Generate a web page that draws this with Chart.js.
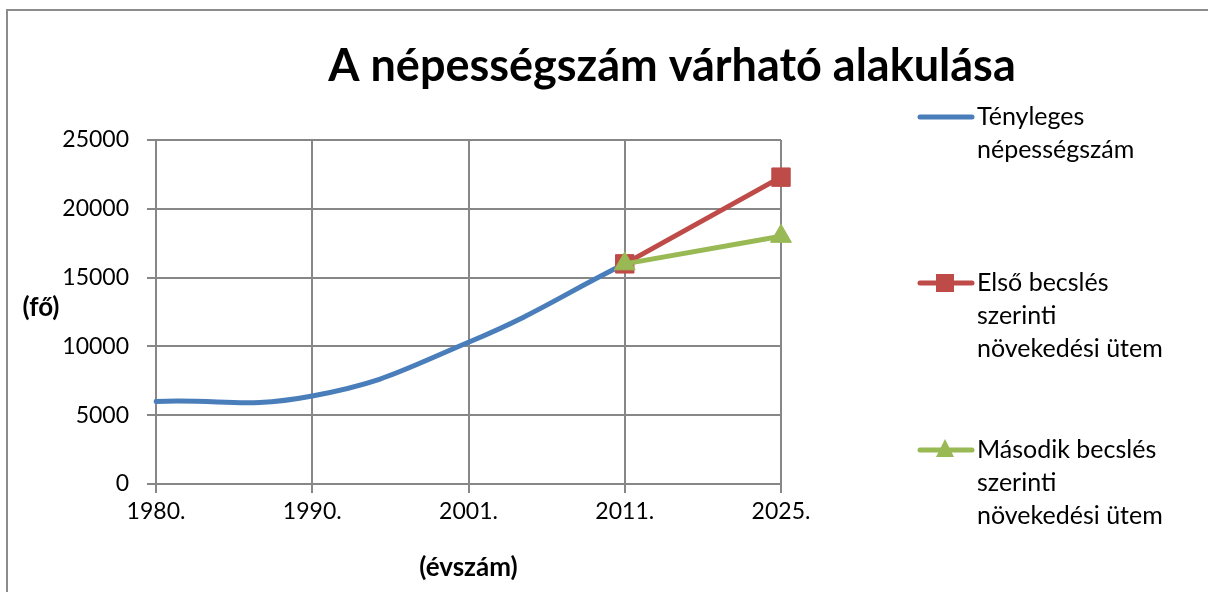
<!DOCTYPE html>
<html lang="hu">
<head>
<meta charset="UTF-8">
<title>A népességszám várható alakulása</title>
<script src="https://cdn.jsdelivr.net/npm/chart.js"></script>
<style>
    html, body { margin: 0; padding: 0; background: #fff; overflow: hidden; }
    #wrap { position: relative; width: 1208px; height: 592px; }
    #frame {
        position: absolute; left: 6px; top: 9px; right: -10px; bottom: -10px;
        border-top: 2px solid #8c8c8c; border-left: 2px solid #8c8c8c;
        pointer-events: none;
    }
    canvas { position: absolute; left: 0; top: 0; }
</style>
</head>
<body>
<div id="wrap">
    <canvas id="nepChart" width="1208" height="592"></canvas>
    <div id="frame"></div>
</div>
<script>
    // évek (kategóriák)
    const evek = ['1980.', '1990.', '2001.', '2011.', '2025.'];

    // tényleges népességszám (fő)
    const tenyleges = [6000, 6400, 10300, 16000, null];
    // becslések 2011-től
    const elsoBecsles = [null, null, null, 16000, 22300];
    const masodikBecsles = [null, null, null, 16000, 18000];

    const sorozatNevek = [
        ['Tényleges', 'népességszám'],
        ['Első becslés', 'szerinti', 'növekedési ütem'],
        ['Második becslés', 'szerinti', 'növekedési ütem']
    ];

    const yTicks = [0, 5000, 10000, 15000, 20000, 25000];

    const FONT = 'Lato, "Open Sans", sans-serif';
    const racsSzin = '#878787';

    // cím, függőleges tengelyfelirat és jelmagyarázat
    const rajzoloPlugin = {
        id: 'rajzolo',
        afterDraw(chart) {
            const ctx = chart.ctx;
            ctx.save();
            ctx.fillStyle = '#000';
            ctx.textBaseline = 'middle';

            ctx.font = 'bold 45px ' + FONT;
            ctx.textAlign = 'center';
            ctx.fillText('A népességszám várható alakulása', 672, 66);

            ctx.font = 'bold 26px ' + FONT;
            ctx.fillText('(fő)', 41, 308);

            // jelmagyarázat
            const kezdoY = [117, 283, 450];
            chart.data.datasets.forEach((ds, i) => {
                const y = kezdoY[i];
                ctx.strokeStyle = ds.borderColor;
                ctx.lineWidth = 5;
                ctx.lineCap = 'round';
                ctx.beginPath();
                ctx.moveTo(920, y);
                ctx.lineTo(972, y);
                ctx.stroke();
                if (ds.pointStyle === 'rect') {
                    ctx.fillStyle = ds.pointBackgroundColor;
                    ctx.fillRect(936, y - 9, 18, 18);
                } else if (ds.pointStyle === 'triangle') {
                    ctx.fillStyle = ds.pointBackgroundColor;
                    ctx.beginPath();
                    ctx.moveTo(945, y - 11);
                    ctx.lineTo(954, y + 7);
                    ctx.lineTo(936, y + 7);
                    ctx.closePath();
                    ctx.fill();
                }
                ctx.fillStyle = '#000';
                ctx.textAlign = 'left';
                ctx.font = '25px ' + FONT;
                sorozatNevek[i].forEach((sor, j) => {
                    ctx.fillText(sor, 977, y + j * 33);
                });
            });
            ctx.restore();
        }
    };

    new Chart(document.getElementById('nepChart'), {
        type: 'line',
        data: {
            labels: evek,
            datasets: [
                {
                    label: sorozatNevek[0].join(' '),
                    data: tenyleges,
                    borderColor: '#4a7ebb',
                    backgroundColor: '#4a7ebb',
                    borderWidth: 5,
                    tension: 0.45,
                    pointRadius: 0,
                    borderCapStyle: 'round',
                    order: 3
                },
                {
                    label: sorozatNevek[1].join(' '),
                    data: elsoBecsles,
                    borderColor: '#be4b48',
                    backgroundColor: '#be4b48',
                    pointBackgroundColor: '#be4b48',
                    pointBorderColor: '#be4b48',
                    pointStyle: 'rect',
                    pointRadius: 13,
                    pointBorderWidth: 1,
                    borderWidth: 5,
                    tension: 0,
                    borderCapStyle: 'round',
                    order: 2
                },
                {
                    label: sorozatNevek[2].join(' '),
                    data: masodikBecsles,
                    borderColor: '#98b954',
                    backgroundColor: '#98b954',
                    pointBackgroundColor: '#98b954',
                    pointBorderColor: '#98b954',
                    pointStyle: 'triangle',
                    pointRadius: 12,
                    pointBorderWidth: 1,
                    borderWidth: 5,
                    tension: 0,
                    borderCapStyle: 'round',
                    order: 1
                }
            ]
        },
        options: {
            responsive: false,
            animation: false,
            layout: { padding: { left: 0, right: 427, top: 140, bottom: 0 } },
            plugins: {
                legend: { display: false },
                title: { display: false },
                tooltip: { enabled: false }
            },
            scales: {
                x: {
                    offset: false,
                    afterFit(axis) { axis.height = 108; },
                    grid: { color: racsSzin, lineWidth: 2, tickLength: 9 },
                    border: { color: racsSzin, width: 2 },
                    ticks: { color: '#000', font: { family: FONT, size: 23 }, padding: 5, maxRotation: 0 },
                    title: {
                        display: true, text: '(évszám)', color: '#000',
                        font: { family: FONT, size: 26, weight: 'bold' },
                        padding: { top: 0, bottom: 9 }
                    }
                },
                y: {
                    min: 0, max: 25000,
                    afterFit(axis) { axis.width = 156; },
                    afterBuildTicks(axis) { axis.ticks = yTicks.map(v => ({ value: v })); },
                    grid: { color: racsSzin, lineWidth: 2, tickLength: 9 },
                    border: { color: racsSzin, width: 2 },
                    ticks: {
                        color: '#000', font: { family: FONT, size: 23 }, padding: 18,
                        callback: v => String(v)
                    }
                }
            }
        },
        plugins: [rajzoloPlugin]
    });
</script>
</body>
</html>
